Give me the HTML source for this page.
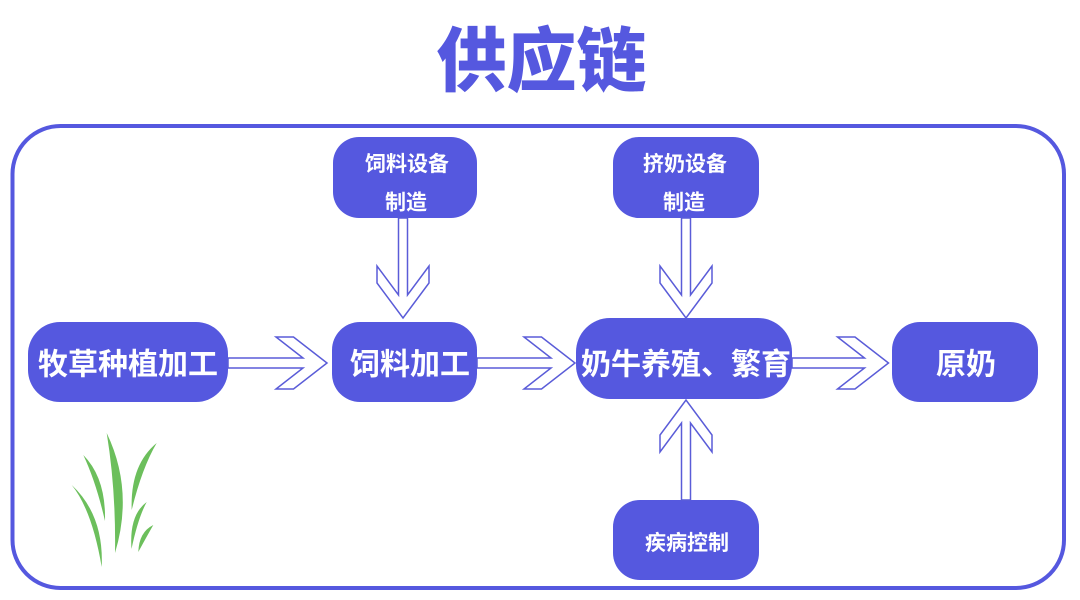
<!DOCTYPE html>
<html>
<head>
<meta charset="utf-8">
<style>
  html, body { margin: 0; padding: 0; background: #ffffff; }
  body { width: 1080px; height: 600px; overflow: hidden; }
  svg { display: block; }
  .t { font-family: "Liberation Sans", "Noto Sans CJK SC", "WenQuanYi Zen Hei", sans-serif; font-weight: 700; fill: #ffffff; text-anchor: middle; }
</style>
</head>
<body>
<svg width="1080" height="600" viewBox="0 0 1080 600" xmlns="http://www.w3.org/2000/svg">
  <!-- Title -->
  <text x="541.5" y="85.5" text-anchor="middle" font-family="'Liberation Sans','Noto Sans CJK SC',sans-serif" font-weight="900" font-size="70" fill="#5558DF">供应链</text>

  <!-- Outer rounded frame -->
  <rect x="12.5" y="126" width="1051.5" height="462" rx="48" ry="48" fill="none" stroke="#5558DF" stroke-width="4"/>

  <!-- Nodes -->
  <rect x="333" y="137" width="144" height="81" rx="26" fill="#5558DF"/>
  <rect x="613" y="137" width="146" height="81" rx="26" fill="#5558DF"/>
  <rect x="28" y="322" width="200" height="80" rx="32" fill="#5558DF"/>
  <rect x="332" y="322" width="145" height="80" rx="28" fill="#5558DF"/>
  <rect x="576" y="318" width="216" height="81" rx="34" fill="#5558DF"/>
  <rect x="892" y="322" width="146" height="80" rx="28" fill="#5558DF"/>
  <rect x="613" y="500" width="146" height="80" rx="27" fill="#5558DF"/>

  <!-- Node labels -->
  <text class="t" x="407" y="171" font-size="21">饲料设备</text>
  <text class="t" x="406" y="209.5" font-size="21">制造</text>
  <text class="t" x="685" y="171" font-size="21">挤奶设备</text>
  <text class="t" x="684" y="209.5" font-size="21">制造</text>
  <text class="t" x="128" y="374.5" font-size="30">牧草种植加工</text>
  <text class="t" x="410" y="374.5" font-size="30">饲料加工</text>
  <text class="t" x="686" y="374.5" font-size="30">奶牛养殖、繁育</text>
  <text class="t" x="966" y="374.5" font-size="30">原奶</text>
  <text class="t" x="687" y="550" font-size="21">疾病控制</text>

  <!-- Hollow arrows -->
  <g fill="#ffffff" stroke="#5A5CD8" stroke-width="1.5" stroke-linejoin="miter">
    <!-- horizontal -->
    <polygon points="228,358 303,358 276,337 293.5,337 327,363 293.5,389 276,389 303,368 228,368"/>
    <polygon points="477,358 551,358 524,337 541.5,337 575,363 541.5,389 524,389 551,368 477,368"/>
    <polygon points="792,358 864.5,358 837.5,337 855,337 888.5,363 855,389 837.5,389 864.5,368 792,368"/>
    <!-- vertical down -->
    <polygon points="398.5,218 398.5,295 377,266 377,283 403,318 429,283 429,266 407.5,295 407.5,218"/>
    <polygon points="681.5,218 681.5,295 660,266 660,283 686,318 712,283 712,266 690.5,295 690.5,218"/>
    <!-- vertical up -->
    <polygon points="681.5,500 681.5,423 660,452 660,435 686,400 712,435 712,452 690.5,423 690.5,500"/>
  </g>

  <!-- Grass -->
  <g fill="#6CBF5C">
    <!-- tall center blade -->
    <path d="M106.7,433 Q134,490 115,553 Q116,490 106.7,433 Z"/>
    <!-- left-middle blade -->
    <path d="M83.3,455 Q96,482 105,521 Q106,478 83.3,455 Z"/>
    <!-- far-left blade -->
    <path d="M71.7,485 Q92,510 101.7,567 Q104,515 71.7,485 Z"/>
    <!-- right tall blade -->
    <path d="M156.7,443 Q130,465 131.7,510 Q142,468 156.7,443 Z"/>
    <!-- lower right blade -->
    <path d="M146.7,502 Q129,515 131.5,549 Q138,518 146.7,502 Z"/>
    <!-- smallest blade -->
    <path d="M153.3,525 Q139,532 138.3,552 Q147,536 153.3,525 Z"/>
  </g>
</svg>
</body>
</html>
